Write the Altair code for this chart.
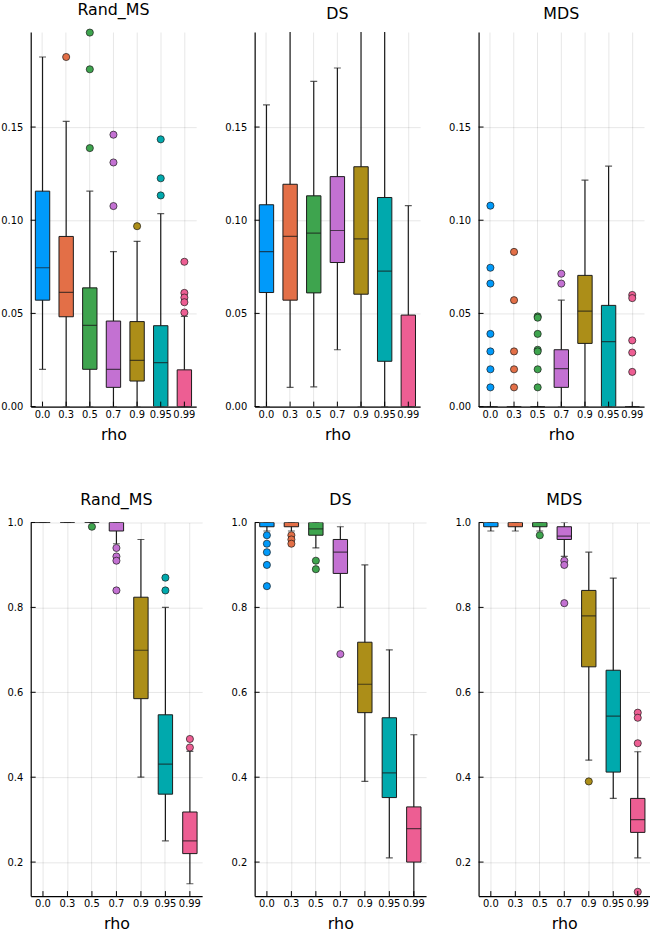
import altair as alt
import pandas as pd

RHO = ["0.0", "0.3", "0.5", "0.7", "0.9", "0.95", "0.99"]
PALETTE = ["#009AFA", "#E36F47", "#3EA44E", "#C371D2", "#AC8E18", "#00A9AD", "#ED5E93"]

TOP_TICKS = [0.0, 0.05, 0.10, 0.15]
BOTTOM_TICKS = [0.2, 0.4, 0.6, 0.8, 1.0]
TOP_DOMAIN = [0.0, 0.201]
BOTTOM_DOMAIN = [0.12, 1.0]

# ---- top row: Rand_MS ----
rand_top_lo = [0.020, 0.0, 0.0, 0.0, 0.0, 0.0, 0.0]
rand_top_q1 = [0.0571, 0.0482, 0.020, 0.0103, 0.0137, 0.0, 0.0]
rand_top_med = [0.0745, 0.0613, 0.0436, 0.020, 0.0248, 0.0236, 0.0]
rand_top_q3 = [0.1156, 0.0913, 0.0637, 0.0459, 0.0456, 0.0434, 0.0197]
rand_top_hi = [0.1876, 0.153, 0.1156, 0.0832, 0.0887, 0.1035, 0.0484]
rand_top_out = [[], [0.1876], [0.2007, 0.181, 0.1387], [0.1459, 0.131, 0.1076],
                [0.0968], [0.1434, 0.1225, 0.1133], [0.0777, 0.061, 0.0585, 0.056, 0.0505]]

# ---- top row: DS ----
ds_top_lo = [0.0, 0.0103, 0.0106, 0.0305, 0.0, 0.0, 0.0]
ds_top_q1 = [0.0612, 0.0571, 0.061, 0.0773, 0.0603, 0.0243, 0.0]
ds_top_med = [0.0832, 0.0913, 0.0931, 0.0945, 0.090, 0.0727, 0.0]
ds_top_q3 = [0.1083, 0.1193, 0.1131, 0.1234, 0.1287, 0.1122, 0.0491]
ds_top_hi = [0.1619, 0.23, 0.1745, 0.1817, 0.24, 0.25, 0.1078]
ds_top_out = [[], [], [], [], [], [], []]

# ---- top row: MDS ----
mds_top_lo = [0.0, 0.0, 0.0, 0.0, 0.0, 0.0, 0.0]
mds_top_q1 = [0.0, 0.0, 0.0, 0.0103, 0.0339, 0.0, 0.0]
mds_top_med = [0.0, 0.0, 0.0, 0.0204, 0.0512, 0.0349, 0.0]
mds_top_q3 = [0.0, 0.0, 0.0, 0.0305, 0.0704, 0.0543, 0.0]
mds_top_hi = [0.0, 0.0, 0.0, 0.0571, 0.1215, 0.129, 0.0]
mds_top_out = [[0.1078, 0.0745, 0.066, 0.039, 0.0296, 0.020, 0.0103],
               [0.083, 0.0571, 0.0296, 0.020, 0.0103],
               [0.0484, 0.0477, 0.039, 0.0305, 0.0296, 0.020, 0.0103],
               [0.0713, 0.066], [], [], [0.0599, 0.0582, 0.0355, 0.029, 0.0186]]

# ---- bottom row: Rand_MS ----
rand_bot_lo = [1.0, 1.0, 1.0, 0.95, 0.40, 0.25, 0.149]
rand_bot_q1 = [1.0, 1.0, 1.0, 0.98, 0.585, 0.36, 0.22]
rand_bot_med = [1.0, 1.0, 1.0, 1.0, 0.699, 0.431, 0.25]
rand_bot_q3 = [1.0, 1.0, 1.0, 1.0, 0.824, 0.547, 0.318]
rand_bot_hi = [1.0, 1.0, 1.0, 1.0, 0.96, 0.80, 0.461]
rand_bot_out = [[], [], [0.99], [0.94, 0.92, 0.91, 0.84], [], [0.87, 0.84], [0.49, 0.47]]

# ---- bottom row: DS ----
ds_bot_lo = [0.98, 0.98, 0.94, 0.80, 0.39, 0.21, 0.05]
ds_bot_q1 = [0.99, 0.99, 0.97, 0.88, 0.552, 0.352, 0.20]
ds_bot_med = [1.0, 1.0, 0.985, 0.93, 0.619, 0.41, 0.279]
ds_bot_q3 = [1.0, 1.0, 1.0, 0.96, 0.718, 0.54, 0.33]
ds_bot_hi = [1.0, 1.0, 1.0, 0.99, 0.90, 0.70, 0.50]
ds_bot_out = [[0.97, 0.95, 0.93, 0.90, 0.85], [0.97, 0.96, 0.95], [0.91, 0.89], [0.69], [], [], []]

# ---- bottom row: MDS ----
mds_bot_lo = [0.98, 0.98, 0.98, 0.92, 0.44, 0.35, 0.21]
mds_bot_q1 = [0.99, 0.99, 0.99, 0.96, 0.66, 0.412, 0.27]
mds_bot_med = [1.0, 1.0, 1.0, 0.968, 0.78, 0.544, 0.30]
mds_bot_q3 = [1.0, 1.0, 1.0, 0.99, 0.84, 0.652, 0.35]
mds_bot_hi = [1.0, 1.0, 1.0, 1.0, 0.93, 0.869, 0.46]
mds_bot_out = [[], [], [0.97], [0.91, 0.90, 0.81], [0.39], [], [0.552, 0.54, 0.48, 0.13]]

INK = "#1a1a1a"


def panel(title, lo, q1, med, q3, hi, outl, ydom, yticks, yfmt, w, h, ext):
    box = pd.DataFrame({"rho": RHO, "lo": lo, "q1": q1, "med": med, "q3": q3, "hi": hi})
    rows = [(r, v) for r, vals in zip(RHO, outl) for v in vals]
    pts_df = pd.DataFrame(rows, columns=["rho", "v"])
    xaxis = alt.Axis(title="rho", labelAngle=0, ticks=False, grid=True, bandPosition=0.5,
                     labelPadding=3, titlePadding=7)
    xs = alt.X("rho:N", sort=RHO, scale=alt.Scale(domain=RHO, paddingInner=0, paddingOuter=0),
               axis=xaxis)
    ys = alt.Scale(domain=ydom, nice=False, zero=False)
    yaxis = alt.Axis(values=yticks, format=yfmt, ticks=False, title=None, labelPadding=8,
                     minExtent=ext, maxExtent=ext, grid=True)
    col = alt.Color("rho:N", scale=alt.Scale(domain=RHO, range=PALETTE), legend=None)
    base = alt.Chart(box)
    whisk = base.mark_rule(color=INK, strokeWidth=1.2, clip=True).encode(
        x=xs, y=alt.Y("lo:Q", scale=ys, axis=yaxis), y2="hi:Q")
    cap_lo = base.mark_tick(color=INK, size=7, thickness=1.2, clip=True).encode(
        x=xs, y=alt.Y("lo:Q", scale=ys, axis=yaxis))
    cap_hi = base.mark_tick(color=INK, size=7, thickness=1.2, clip=True).encode(
        x=xs, y=alt.Y("hi:Q", scale=ys, axis=yaxis))
    boxes = base.mark_bar(size=14.5, stroke=INK, strokeWidth=1, clip=True).encode(
        x=xs, y=alt.Y("q1:Q", scale=ys, axis=yaxis), y2="q3:Q", color=col)
    meds = base.mark_tick(color=INK, size=14.5, thickness=1.2, clip=True).encode(
        x=xs, y=alt.Y("med:Q", scale=ys, axis=yaxis))
    pts = alt.Chart(pts_df).mark_circle(size=52, stroke=INK, strokeWidth=0.7, opacity=1).encode(
        x=xs, y=alt.Y("v:Q", scale=ys, axis=yaxis), color=col)
    ytk = alt.Chart(pd.DataFrame({"t": yticks})).mark_rule(color="#000", strokeWidth=1).encode(
        y=alt.Y("t:Q", scale=ys, axis=yaxis), x=alt.value(0), x2=alt.value(5))
    xtk = alt.Chart(pd.DataFrame({"rho": RHO})).mark_rule(color="#000", strokeWidth=1).encode(
        x=xs, y=alt.value(h - 5), y2=alt.value(h))
    return alt.layer(whisk, cap_lo, cap_hi, boxes, meds, pts, ytk, xtk).properties(
        width=w, height=h,
        title=alt.TitleParams(title, fontSize=16, fontWeight="normal", frame="group",
                              anchor="middle", offset=10, color="#000"))


TW, TH, TE = 167, 378, 31
BW, BH, BE = 173, 377, 24

top = alt.hconcat(
    panel("Rand_MS", rand_top_lo, rand_top_q1, rand_top_med, rand_top_q3, rand_top_hi, rand_top_out,
          TOP_DOMAIN, TOP_TICKS, ".2f", TW, TH, TE),
    panel("DS", ds_top_lo, ds_top_q1, ds_top_med, ds_top_q3, ds_top_hi, ds_top_out,
          TOP_DOMAIN, TOP_TICKS, ".2f", TW, TH, TE),
    panel("MDS", mds_top_lo, mds_top_q1, mds_top_med, mds_top_q3, mds_top_hi, mds_top_out,
          TOP_DOMAIN, TOP_TICKS, ".2f", TW, TH, TE),
    spacing=28,
)
bottom = alt.hconcat(
    panel("Rand_MS", rand_bot_lo, rand_bot_q1, rand_bot_med, rand_bot_q3, rand_bot_hi, rand_bot_out,
          BOTTOM_DOMAIN, BOTTOM_TICKS, ".1f", BW, BH, BE),
    panel("DS", ds_bot_lo, ds_bot_q1, ds_bot_med, ds_bot_q3, ds_bot_hi, ds_bot_out,
          BOTTOM_DOMAIN, BOTTOM_TICKS, ".1f", BW, BH, BE),
    panel("MDS", mds_bot_lo, mds_bot_q1, mds_bot_med, mds_bot_q3, mds_bot_hi, mds_bot_out,
          BOTTOM_DOMAIN, BOTTOM_TICKS, ".1f", BW, BH, BE),
    spacing=29,
)

chart = alt.vconcat(top, bottom, spacing=50).properties(
    padding={"left": 0, "top": -3, "right": 0, "bottom": 0},
    background="white",
).configure(font="DejaVu Sans").configure_view(stroke=None).configure_axis(
    labelFont="DejaVu Sans", labelFontSize=10, labelColor="#000",
    titleFont="DejaVu Sans", titleFontSize=16, titleFontWeight="normal", titleColor="#000",
    domainColor="#000", domainWidth=1.2, gridColor="#000", gridOpacity=0.1, gridWidth=1,
).configure_title(font="DejaVu Sans")

chart.save("out.html", embed_options={"renderer": "svg", "actions": False})
